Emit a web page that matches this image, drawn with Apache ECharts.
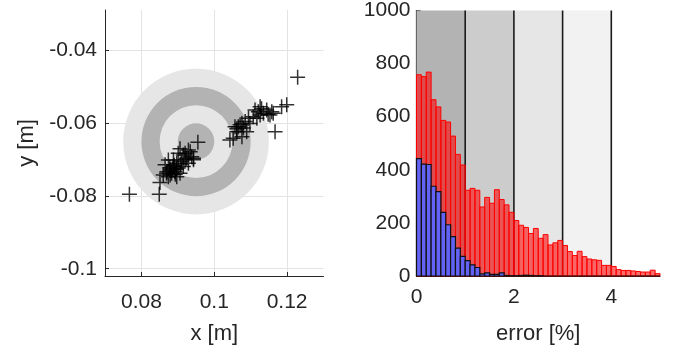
<!DOCTYPE html>
<html><head><meta charset="utf-8">
<script src="https://cdn.jsdelivr.net/npm/echarts@6/dist/echarts.min.js"></script>
<style>html,body{margin:0;padding:0;background:#fff}#c{width:681px;height:356px}</style>
</head><body><div id="c"></div>
<script>
// ---- left panel: target + hit positions ----
const targetCenter = [0.095, -0.065];
const ringRadii = [0.02, 0.015, 0.01, 0.005];
const ringColors = ['#e6e6e6', '#b3b3b3', '#e6e6e6', '#b3b3b3'];
const hitsLower = [
  [0.0767,-0.0795],[0.0849,-0.0795],[0.0851,-0.0763],[0.0955,-0.0652],
  [0.0929,-0.0673],[0.0915,-0.0687],[0.0901,-0.0682],[0.0924,-0.0696],[0.0938,-0.0692],
  [0.0911,-0.0705],[0.0897,-0.0710],[0.0888,-0.0719],[0.0901,-0.0723],[0.0879,-0.0728],
  [0.0892,-0.0733],[0.0883,-0.0737],[0.0870,-0.0733],[0.0874,-0.0747],[0.0897,-0.0747],
  [0.0906,-0.0737],[0.0865,-0.0714],[0.0915,-0.0719],[0.0929,-0.0710],[0.0943,-0.0700],
  [0.0920,-0.0682],[0.0934,-0.0678],[0.0888,-0.0701],[0.0874,-0.0701],[0.0869,-0.0737],
  [0.0879,-0.0742],[0.0906,-0.0670],[0.0943,-0.0696],[0.0885,-0.0725],[0.0893,-0.0740],
  [0.0878,-0.0722],[0.0908,-0.0712],[0.0896,-0.0727],[0.0860,-0.0742],[0.0920,-0.0700],
  [0.0890,-0.0715]
];
const hitsUpper = [
  [0.1229,-0.0473],[0.1199,-0.0549],[0.1185,-0.0554],[0.1167,-0.0623],[0.1158,-0.0568],
  [0.1144,-0.0563],[0.1135,-0.0572],[0.1126,-0.0554],[0.1121,-0.0568],[0.1112,-0.0563],
  [0.1153,-0.0577],[0.1107,-0.0582],[0.1094,-0.0586],[0.1098,-0.0600],[0.1085,-0.0595],
  [0.1076,-0.0600],[0.1066,-0.0609],[0.1080,-0.0613],[0.1062,-0.0623],[0.1076,-0.0637],
  [0.1043,-0.0646],[0.1089,-0.0623],[0.1126,-0.0577],[0.1057,-0.0609],[0.1162,-0.0572],
  [0.1117,-0.0586],[0.1052,-0.0641],[0.1071,-0.0604],[0.1130,-0.0560],[0.1062,-0.0615],
  [0.1148,-0.0575]
];

// ---- right panel: error histograms ----
const binWidth = 0.1;
const redCounts = [
  758, 751, 768, 664, 637, 586, 580, 527, 458, 418,
  323, 330, 323, 260, 296, 274, 325, 288, 268, 240,
  209, 191, 183, 160, 179, 142, 156, 117, 125, 134,
  115, 92, 77, 93, 73, 64, 61, 59, 40, 40,
  36, 24, 21, 21, 19, 17, 15, 15, 22, 9
];
const blueCounts = [
  442, 421, 420, 338, 318, 240, 193, 148, 105, 74,
  58, 42, 32, 8, 12, 6, 6, 12, 2, 1,
  1, 2, 3, 2, 1, 1, 0, 0, 0, 0,
  0, 0, 0, 0, 0, 0, 0, 0, 0, 0,
  0, 0, 0, 0, 0, 0, 0, 0, 0, 0
];
const bandEdges = [0, 1, 2, 3, 4];
const bandColors = ['#b3b3b3', '#cccccc', '#e6e6e6', '#f2f2f2'];
const bandLines = [1, 2, 3, 4];
const histYMax = 1000;

const FONT = 'Liberation Sans, Arial, sans-serif';
const TXT = '#262626';
const LBL = 21;

function histSeries(counts, fill, stroke, lw, z) {
  return {
    type: 'custom', xAxisIndex: 1, yAxisIndex: 1, z: z,
    encode: { x: [0, 1], y: 2 },
    data: counts.map((v, i) => [i * binWidth, (i + 1) * binWidth, v]),
    renderItem: function (params, api) {
      const p0 = api.coord([api.value(0), 0]);
      const p1 = api.coord([api.value(1), api.value(2)]);
      return { type: 'rect',
        shape: { x: p0[0], y: p1[1], width: p1[0] - p0[0], height: p0[1] - p1[1] },
        style: { fill: fill, stroke: stroke, lineWidth: lw } };
    }
  };
}

const chart = echarts.init(document.getElementById('c'), null, { renderer: 'canvas' });
chart.setOption({
  animation: false,
  textStyle: { fontFamily: FONT },
  grid: [
    { left: 105, top: 10, width: 218.5, height: 266 },
    { left: 416.5, top: 10, width: 243.5, height: 266 }
  ],
  xAxis: [
    { gridIndex: 0, type: 'value', min: 0.07, max: 0.13, splitNumber: 3, minInterval: 0.02, maxInterval: 0.02,
      axisLine: { show: true, onZero: false, lineStyle: { color: TXT, width: 1 } },
      axisTick: { show: true, inside: true, length: 4, lineStyle: { color: TXT } },
      splitLine: { show: true, showMinLine: false, showMaxLine: false, lineStyle: { color: '#e3e3e3', width: 1 } },
      axisLabel: { fontSize: LBL, color: TXT, fontFamily: FONT, margin: 16, showMinLabel: false, showMaxLabel: false },
      name: 'x [m]', nameLocation: 'middle', nameGap: 47,
      nameTextStyle: { fontSize: 22, color: TXT, fontFamily: FONT } },
    { gridIndex: 1, type: 'value', min: 0, max: 5, interval: 2,
      axisLine: { show: true, onZero: false, lineStyle: { color: '#1a1a1a', width: 1.2 } },
      axisTick: { show: true, inside: true, length: 4, lineStyle: { color: TXT } },
      splitLine: { show: false },
      axisLabel: { fontSize: LBL, color: TXT, fontFamily: FONT, margin: 11, showMaxLabel: false },
      name: 'error [%]', nameLocation: 'middle', nameGap: 47,
      nameTextStyle: { fontSize: 22, color: TXT, fontFamily: FONT } }
  ],
  yAxis: [
    { gridIndex: 0, type: 'value', min: -0.102, max: -0.0288, splitNumber: 3, minInterval: 0.02, maxInterval: 0.02,
      axisLine: { show: true, onZero: false, lineStyle: { color: TXT, width: 1 } },
      axisTick: { show: true, inside: true, length: 4, lineStyle: { color: TXT } },
      splitLine: { show: true, showMinLine: false, showMaxLine: false, lineStyle: { color: '#e3e3e3', width: 1 } },
      axisLabel: { fontSize: LBL, color: TXT, fontFamily: FONT, margin: 8, showMinLabel: false, showMaxLabel: false },
      name: 'y [m]', nameLocation: 'middle', nameGap: 67, nameRotate: 90,
      nameTextStyle: { fontSize: 22, color: TXT, fontFamily: FONT } },
    { gridIndex: 1, type: 'value', min: 0, max: histYMax, interval: 200,
      axisLine: { show: true, onZero: false, lineStyle: { color: '#1a1a1a', width: 1.2 } },
      axisTick: { show: true, inside: true, length: 4, lineStyle: { color: TXT } },
      splitLine: { show: false },
      axisLabel: { fontSize: LBL, color: TXT, fontFamily: FONT, margin: 6,
        formatter: function (v) { return String(v); } } }
  ],
  series: [
    { type: 'custom', xAxisIndex: 0, yAxisIndex: 0, z: 1,
      encode: { x: 0, y: 1 },
      data: ringRadii.map((r, i) => [targetCenter[0], targetCenter[1], r, i]),
      renderItem: function (params, api) {
        const c = api.coord([api.value(0), api.value(1)]);
        const r = api.size([api.value(2), 0])[0];
        return { type: 'circle', shape: { cx: c[0], cy: c[1], r: r },
          style: { fill: ringColors[api.value(3)], stroke: null } };
      } },
    { type: 'scatter', xAxisIndex: 0, yAxisIndex: 0, z: 3,
      data: hitsLower.concat(hitsUpper),
      symbol: 'path://M5,0L5,10M0,5L10,5', symbolSize: 15,
      itemStyle: { color: 'rgba(0,0,0,0)', borderColor: '#000', borderWidth: 1.5 } },
    { type: 'custom', xAxisIndex: 1, yAxisIndex: 1, z: 1,
      encode: { x: [0, 1], y: 2 },
      data: bandColors.map((c, i) => [bandEdges[i], bandEdges[i] + 1, histYMax, i]),
      renderItem: function (params, api) {
        const p0 = api.coord([api.value(0), 0]);
        const p1 = api.coord([api.value(1), api.value(2)]);
        return { type: 'rect', shape: { x: p0[0], y: p1[1], width: p1[0] - p0[0], height: p0[1] - p1[1] },
          style: { fill: bandColors[api.value(3)], stroke: null } };
      } },
    { type: 'custom', xAxisIndex: 1, yAxisIndex: 1, z: 1.5,
      encode: { x: 0, y: 1 },
      data: bandLines.map(x => [x, histYMax]),
      renderItem: function (params, api) {
        const p0 = api.coord([api.value(0), 0]);
        const p1 = api.coord([api.value(0), api.value(1)]);
        return { type: 'line', shape: { x1: p0[0], y1: p1[1], x2: p0[0], y2: p0[1] },
          style: { stroke: '#1a1a1a', lineWidth: 1.6 } };
      } },
    histSeries(redCounts, 'rgba(255,0,0,0.58)', '#ff0000', 1, 2),
    histSeries(blueCounts, 'rgb(98,98,245)', '#111111', 1.2, 3)
  ]
});
</script>
</body></html>
